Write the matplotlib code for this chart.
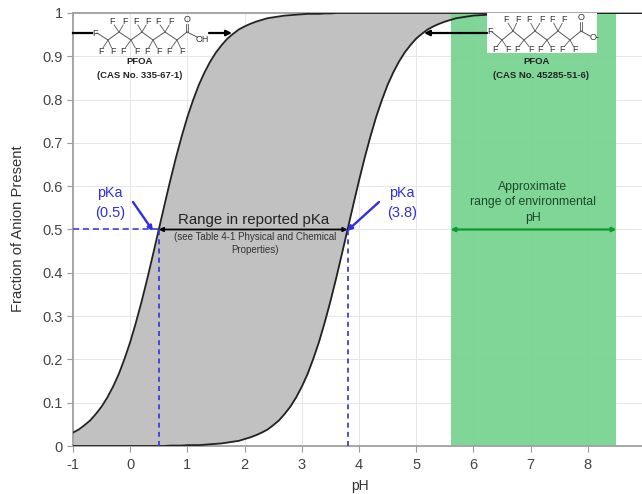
import matplotlib
matplotlib.use("Agg")
import matplotlib.pyplot as plt

plt.rcParams["font.family"] = ["Liberation Sans", "DejaVu Sans"]

# values
ph = [-1.0, -0.9, -0.8, -0.7, -0.6, -0.5, -0.4, -0.3, -0.2, -0.1,
      0.0, 0.1, 0.2, 0.3, 0.4, 0.5, 0.6, 0.7, 0.8, 0.9,
      1.0, 1.1, 1.2, 1.3, 1.4, 1.5, 1.6, 1.7, 1.8, 1.9,
      2.0, 2.1, 2.2, 2.3, 2.4, 2.5, 2.6, 2.7, 2.8, 2.9,
      3.0, 3.1, 3.2, 3.3, 3.4, 3.5, 3.6, 3.7, 3.8, 3.9,
      4.0, 4.1, 4.2, 4.3, 4.4, 4.5, 4.6, 4.7, 4.8, 4.9,
      5.0, 5.1, 5.2, 5.3, 5.4, 5.5, 5.6, 5.7, 5.8, 5.9,
      6.0, 6.5, 7.0, 8.0, 9.0]
pka_low = [0.031, 0.038, 0.048, 0.059, 0.074, 0.091, 0.112, 0.137, 0.166, 0.201,
           0.24, 0.285, 0.334, 0.387, 0.443, 0.5, 0.557, 0.613, 0.666, 0.715,
           0.76, 0.799, 0.834, 0.863, 0.888, 0.909, 0.926, 0.941, 0.952, 0.962,
           0.969, 0.975, 0.98, 0.984, 0.988, 0.99, 0.992, 0.994, 0.995, 0.996,
           0.997, 0.998, 0.998, 0.998, 0.999, 0.999, 1, 1, 1, 1,
           1, 1, 1, 1, 1, 1, 1, 1, 1, 1,
           1, 1, 1, 1, 1, 1, 1, 1, 1, 1,
           1, 1, 1, 1, 1]
pka_high = [0, 0, 0, 0, 0, 0, 0, 0, 0, 0,
            0, 0, 0, 0, 0, 0, 0, 0.001, 0.001, 0.001,
            0.002, 0.002, 0.002, 0.003, 0.004, 0.005, 0.006, 0.008, 0.01, 0.012,
            0.016, 0.02, 0.025, 0.031, 0.038, 0.048, 0.059, 0.074, 0.091, 0.112,
            0.137, 0.166, 0.201, 0.24, 0.285, 0.334, 0.387, 0.443, 0.5, 0.557,
            0.613, 0.666, 0.715, 0.76, 0.799, 0.834, 0.863, 0.888, 0.909, 0.926,
            0.941, 0.952, 0.962, 0.969, 0.975, 0.98, 0.984, 0.988, 0.99, 0.992,
            0.994, 0.998, 0.999, 1, 1]

env_ph = [5.6, 8.5]
pka_values = [0.5, 3.8]

x_ticks = [-1, 0, 1, 2, 3, 4, 5, 6, 7, 8, 9]
x_labels = ["-1", "0", "1", "2", "3", "4", "5", "6", "7", "8", "9"]
y_ticks = [0, 0.1, 0.2, 0.3, 0.4, 0.5, 0.6, 0.7, 0.8, 0.9, 1]
y_labels = ["0", "0.1", "0.2", "0.3", "0.4", "0.5", "0.6", "0.7", "0.8", "0.9", "1"]

W, H = 642, 494
fig = plt.figure(figsize=(W / 100, H / 100), dpi=100)
ax = fig.add_axes([73 / W, (H - 446) / H, 572 / W, 433 / H])
ax.set_xlim(-1, 9)
ax.set_ylim(0, 1)
ax.set_xticks(x_ticks)
ax.set_xticklabels(x_labels)
ax.set_yticks(y_ticks)
ax.set_yticklabels(y_labels)
ax.tick_params(labelsize=10.5, labelcolor="#444444", length=4.5, color="#999999", pad=3)
ax.tick_params(axis="x", pad=4)
ax.grid(color="#e6e6e6", linewidth=0.7)
ax.set_axisbelow(True)
for side in ["left", "top", "right", "bottom"]:
    ax.spines[side].set_color("#a0a0a0")
    ax.spines[side].set_linewidth(1.3)

ax.fill_between(ph, pka_high, pka_low, color="#bdbdbd", alpha=0.93, zorder=1, linewidth=0)
ax.axvspan(env_ph[0], env_ph[1], color="#78d492", alpha=0.95, zorder=1.5, linewidth=0)
ax.plot(ph, pka_low, color="#222222", lw=1.3, zorder=3)
ax.plot(ph, pka_high, color="#222222", lw=1.3, zorder=3)

# dashed pKa guides
blue = "#2f2fe0"
ax.plot([-1, pka_values[0]], [0.5, 0.5], color=blue, lw=1.1, ls=(0, (4, 2.5)), zorder=4)
for p in pka_values:
    ax.plot([p, p], [0, 0.5], color=blue, lw=1.2, ls=(0, (3, 2.5)), zorder=4)

ax.annotate("", xy=(pka_values[0], 0.5), xytext=(pka_values[1], 0.5),
            arrowprops=dict(arrowstyle="<|-|>", color="black", lw=1.3, mutation_scale=6, shrinkA=0, shrinkB=0), zorder=5)
ax.annotate("", xy=(env_ph[0], 0.5), xytext=(env_ph[1], 0.5),
            arrowprops=dict(arrowstyle="<|-|>", color="#0c9a2c", lw=1.6, mutation_scale=6, shrinkA=0, shrinkB=0), zorder=5)

fig.text(360 / W, 1 - 486 / H, "pH", fontsize=10, color="#333333", ha="center", va="center")
fig.text(18 / W, 1 - 229 / H, "Fraction of Anion Present", rotation=90, fontsize=10.6,
         color="#333333", ha="center", va="center")

# overlay in pixel coordinates for the callouts and the molecules
ov = fig.add_axes([0, 0, 1, 1], facecolor="none")
ov.set_xlim(0, W)
ov.set_ylim(H, 0)
ov.axis("off")


def label(x, y, s, size=6, color="#333333", **kw):
    ov.text(x, y, s, fontsize=size, color=color, ha="center", va="center", **kw)


def arrow(x0, y0, x1, y1, color="black", lw=1.6, ms=8):
    ov.annotate("", xy=(x1, y1), xytext=(x0, y0),
                arrowprops=dict(arrowstyle="-|>", color=color, lw=lw, mutation_scale=ms, shrinkA=0, shrinkB=0))


def molecule(chain, top, bottom, end_x, end_y, end_text, o_xy):
    ov.plot([p[0] for p in chain], [p[1] for p in chain], color="#555555", lw=0.7)
    ov.plot([chain[-1][0], end_x - 5], [chain[-1][1], end_y - 2], color="#555555", lw=0.7)
    ov.plot([chain[-1][0] - 0.8, o_xy[0] - 0.8], [chain[-1][1], o_xy[1] + 4], color="#555555", lw=0.6)
    ov.plot([chain[-1][0] + 0.8, o_xy[0] + 0.8], [chain[-1][1], o_xy[1] + 4], color="#555555", lw=0.6)
    # every F is bonded to the closest carbon of the chain
    for x, y in top + bottom:
        c = min(chain[1:-1], key=lambda p: (p[0] - x) ** 2 + (p[1] - y) ** 2)
        ov.plot([c[0], x + (c[0] - x) * 0.3], [c[1], y + (c[1] - y) * 0.3], color="#555555", lw=0.6)
        label(x, y, "F", 6.5)
    label(chain[0][0] - 2, chain[0][1], "F", 6.5)
    label(end_x, end_y, end_text, 6.5)
    label(o_xy[0], o_xy[1], "O", 6.5)


# acid form
chain_l = [(97, 33), (108, 40), (119, 32), (131, 40), (142, 32), (153, 40), (165, 32), (177, 40), (187, 32)]
top_l = [(112, 22), (125, 22), (136, 22), (148, 22), (158, 22), (171, 22)]
bot_l = [(101, 51), (113, 51), (123, 51), (137, 51), (147, 51), (159, 51), (169, 51), (182, 51)]
molecule(chain_l, top_l, bot_l, 202, 39, "OH", (187, 20))
ov.plot([73, 92], [33, 33], color="black", lw=1.6)
arrow(209, 33, 232, 33)
label(140, 62, "PFOA", 6.8, "#222222", fontweight="bold")
label(140, 75, "(CAS No. 335-67-1)", 6.8, "#222222", fontweight="bold")

# anion form
ov.add_patch(plt.Rectangle((487, 13), 110, 40, facecolor="white", edgecolor="none"))
chain_r = [(492, 32), (502, 40), (513, 31), (524, 40), (535, 31), (547, 40), (558, 31), (570, 40), (581, 31)]
top_r = [(506, 20), (518, 20), (529, 20), (542, 20), (552, 20), (564, 20)]
bot_r = [(495, 49), (508, 49), (517, 49), (531, 49), (540, 49), (552, 49), (562, 49), (575, 49)]
molecule(chain_r, top_r, bot_r, 595, 38, "O-", (581, 18))
arrow(487, 33, 424, 33)
arrow(603, 33, 644, 33, ms=7)
label(537, 62, "PFOA", 6.8, "#222222", fontweight="bold")
label(541, 75, "(CAS No. 45285-51-6)", 6.8, "#222222", fontweight="bold")

# pKa callouts
label(110, 193, "pKa", 10.3, blue)
label(110, 213, "(0.5)", 10.5, blue)
label(402, 193, "pKa", 10.3, blue)
label(402, 213, "(3.8)", 10.5, blue)
arrow(133, 202, 153, 231, blue, 1.7, 7)
arrow(379, 202, 347, 231, blue, 1.7, 7)

label(254, 220, "Range in reported pKa", 10.8, "#222222")
label(255, 237, "(see Table 4-1 Physical and Chemical", 7, "#333333")
label(255, 250, "Properties)", 7, "#333333")
label(533, 187, "Approximate", 8.8, "#1c4a2a")
label(533, 202, "range of environmental", 8.8, "#1c4a2a")
label(533, 218, "pH", 8.8, "#1c4a2a")

fig.savefig("out.png", dpi=100)
